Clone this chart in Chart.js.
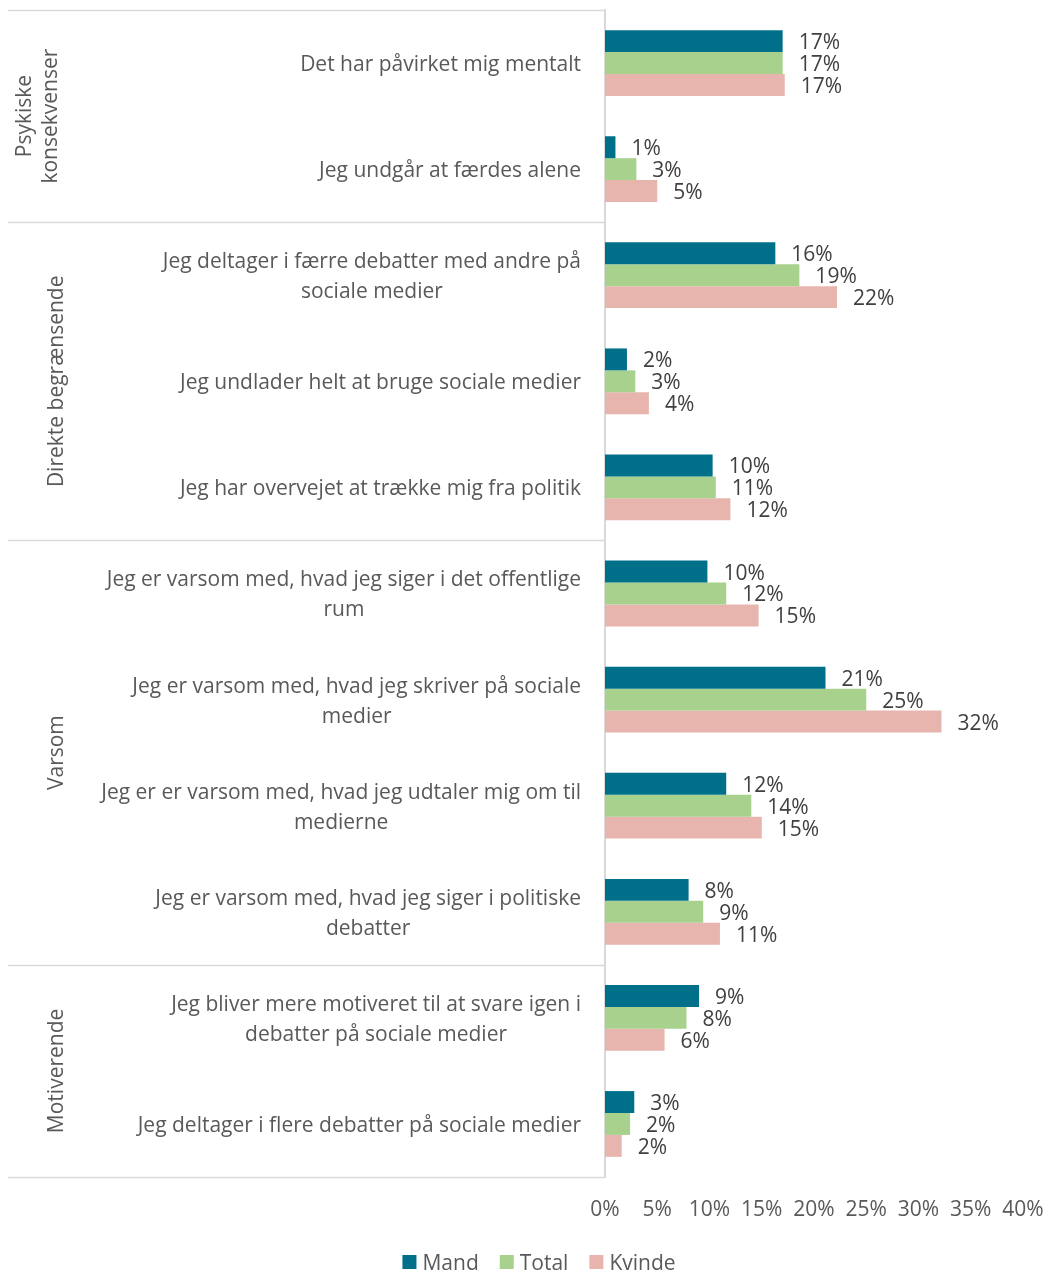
<!DOCTYPE html>
<html>
<head>
<meta charset="utf-8">
<script src="https://cdn.jsdelivr.net/npm/chart.js@4/dist/chart.umd.min.js"></script>
<style>
  body { margin: 0; background: #fff; }
  #wrap { width: 1047px; height: 1272px; position: relative; }
</style>
</head>
<body>
<div id="wrap"><canvas id="chart"></canvas></div>
<script>
const categories = [
  ['Det har påvirket mig mentalt'],
  ['Jeg undgår at færdes alene'],
  ['Jeg deltager i færre debatter med andre på', 'sociale medier'],
  ['Jeg undlader helt at bruge sociale medier'],
  ['Jeg har overvejet at trække mig fra politik'],
  ['Jeg er varsom med, hvad jeg siger i det offentlige', 'rum'],
  ['Jeg er varsom med, hvad jeg skriver på sociale', 'medier'],
  ['Jeg er er varsom med, hvad jeg udtaler mig om til', 'medierne'],
  ['Jeg er varsom med, hvad jeg siger i politiske', 'debatter'],
  ['Jeg bliver mere motiveret til at svare igen i', 'debatter på sociale medier'],
  ['Jeg deltager i flere debatter på sociale medier']
];

// groups: label lines + how many categories they span
const groupLabels = [['Psykiske', 'konsekvenser'], ['Direkte begrænsende'], ['Varsom'], ['Motiverende']];
const groupSizes = [2, 3, 4, 2];

const mandValues   = [17.0, 1.0, 16.3, 2.1, 10.3, 9.8, 21.1, 11.6, 8.0, 9.0, 2.8];
const totalValues  = [17.0, 3.0, 18.6, 2.9, 10.6, 11.6, 25.0, 14.0, 9.4, 7.8, 2.4];
const kvindeValues = [17.2, 5.0, 22.2, 4.2, 12.0, 14.7, 32.2, 15.0, 11.0, 5.7, 1.6];

const xTicks = [0, 5, 10, 15, 20, 25, 30, 35, 40];

const FONT = '"Open Sans", sans-serif';
const TEXT = '#595959';
const SIZE = 21;
const NUDGE = 2; // Open Sans sits a bit high with 'middle' baseline

// draws category labels, group labels, separator lines, value labels and the legend
const decorations = {
  id: 'decorations',
  afterDraw(chart) {
    const ctx = chart.ctx;
    const area = chart.chartArea;
    const y = chart.scales.y;
    const bandH = (area.bottom - area.top) / categories.length;
    ctx.save();

    // separator lines
    ctx.strokeStyle = '#D9D9D9';
    ctx.lineWidth = 1.5;
    let idx = 0;
    const bounds = [0];
    groupSizes.forEach(n => { idx += n; bounds.push(idx); });
    bounds.forEach(b => {
      const yy = Math.round(area.top + b * bandH) + 0.5;
      ctx.beginPath();
      ctx.moveTo(8, yy);
      ctx.lineTo(area.left, yy);
      ctx.stroke();
    });

    // category labels
    ctx.fillStyle = TEXT;
    ctx.font = SIZE + 'px ' + FONT;
    ctx.textBaseline = 'middle';
    ctx.textAlign = 'center';
    const right = area.left - 24;
    const lineH = 30;
    categories.forEach((lines, i) => {
      const cy = y.getPixelForValue(i) + NUDGE;
      const maxW = Math.max(...lines.map(l => ctx.measureText(l).width));
      const cx = right - maxW / 2;
      lines.forEach((l, j) => {
        ctx.fillText(l, cx, cy + (j - (lines.length - 1) / 2) * lineH);
      });
    });

    // group labels, rotated
    let start = 0;
    groupSizes.forEach((n, g) => {
      const top = area.top + start * bandH;
      const bottom = area.top + (start + n) * bandH;
      const cy = (top + bottom) / 2;
      const lines = groupLabels[g];
      const cx = lines.length > 1 ? 38 : 57;
      lines.forEach((l, j) => {
        ctx.save();
        ctx.translate(cx + (j - (lines.length - 1) / 2) * 26, cy);
        ctx.rotate(-Math.PI / 2);
        ctx.fillText(l, 0, 0);
        ctx.restore();
      });
      start += n;
    });

    // value labels
    ctx.fillStyle = '#404040';
    ctx.textAlign = 'left';
    chart.data.datasets.forEach((ds, di) => {
      const meta = chart.getDatasetMeta(di);
      meta.data.forEach((bar, i) => {
        ctx.fillText(Math.round(ds.data[i]) + '%', bar.x + 16, bar.y + NUDGE);
      });
    });

    // legend
    ctx.fillStyle = TEXT;
    const items = chart.data.datasets.map(ds => ({ text: ds.label, color: ds.backgroundColor }));
    const box = 14, gapText = 6, gapItem = 21;
    const widths = items.map(it => box + gapText + ctx.measureText(it.text).width);
    const total = widths.reduce((a, b) => a + b, 0) + gapItem * (items.length - 1);
    let lx = 539 - total / 2;
    const ly = 1262;
    items.forEach((it, i) => {
      ctx.fillStyle = it.color;
      ctx.fillRect(lx, ly - box / 2, box, box);
      ctx.fillStyle = TEXT;
      ctx.fillText(it.text, lx + box + gapText, ly + NUDGE);
      lx += widths[i] + gapItem;
    });

    ctx.restore();
  }
};

new Chart(document.getElementById('chart'), {
  type: 'bar',
  data: {
    labels: categories.map(c => c.join(' ')),
    datasets: [
      { label: 'Mand', data: mandValues, backgroundColor: '#00708A' },
      { label: 'Total', data: totalValues, backgroundColor: '#A9D18E' },
      { label: 'Kvinde', data: kvindeValues, backgroundColor: '#E8B5AE' }
    ]
  },
  options: {
    indexAxis: 'y',
    responsive: true,
    maintainAspectRatio: false,
    animation: false,
    layout: { padding: { top: 10, right: 0, bottom: 0, left: 0 } },
    datasets: { bar: { barPercentage: 1, categoryPercentage: 0.62 } },
    scales: {
      x: {
        min: 0,
        max: 40,
        afterBuildTicks(scale) { scale.ticks = xTicks.map(v => ({ value: v })); },
        afterFit(scale) { scale.height = 95; scale.paddingRight = 24; },
        grid: { display: false, drawTicks: false },
        border: { display: false },
        ticks: {
          padding: 20,
          color: TEXT,
          font: { family: FONT, size: SIZE },
          callback: v => v + '%'
        }
      },
      y: {
        grid: { display: false, drawTicks: false },
        border: { display: true, color: '#D9D9D9', width: 2 },
        ticks: { display: false },
        afterFit(scale) { scale.width = 605; }
      }
    },
    plugins: {
      legend: { display: false },
      tooltip: { enabled: false }
    }
  },
  plugins: [decorations]
});
</script>
</body>
</html>
